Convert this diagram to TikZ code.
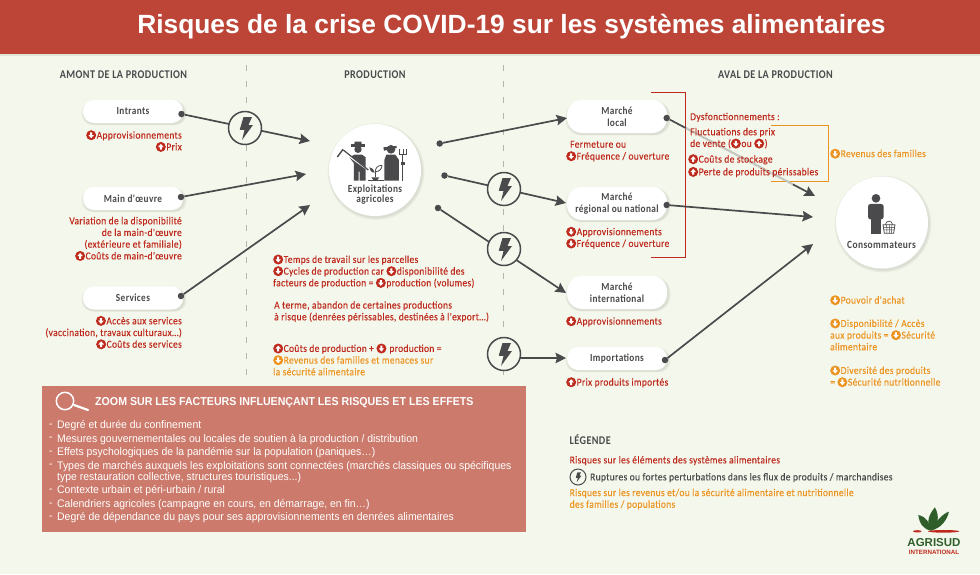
\documentclass[tikz,border=0pt]{standalone}
\usepackage{fontspec}
\usetikzlibrary{arrows.meta,shadows,calc}
\setmainfont{Liberation Sans}
\newfontfamily\dosf[LetterSpace=3,FakeStretch=0.895,FakeBold=0.25]{Carlito}
\newfontfamily\dosb[LetterSpace=3.5,FakeStretch=0.86]{Carlito Bold}
\newfontfamily\zoomf[FakeStretch=0.95]{Liberation Sans}
\newfontfamily\zoomb[FakeStretch=0.925]{Liberation Sans Bold}
\definecolor{bgc}{HTML}{F4F8EC}
\definecolor{barc}{HTML}{BC4537}
\definecolor{cr}{HTML}{BF2A1E}
\definecolor{co}{HTML}{EC9422}
\definecolor{dk}{HTML}{4A4A4C}
\definecolor{boxc}{HTML}{CC7A6B}
\definecolor{dashc}{HTML}{B4B5AC}
\definecolor{leaf}{HTML}{2F5E2B}
\newcommand\icoarrow[1]{\fill[white] (-1,#1*2.8) -- (1,#1*2.8) -- (1,#1*0.2) -- (2.8,#1*0.2) -- (0,-#1*3) -- (-2.8,#1*0.2) -- (-1,#1*0.2) -- cycle;}
\newcommand\rdn{\tikz[baseline=-3.4pt,x=1pt,y=1pt]{\fill[cr] (0,0) circle (5);\icoarrow{1}}\hspace{.5pt}}
\newcommand\rup{\tikz[baseline=-3.4pt,x=1pt,y=1pt]{\fill[cr] (0,0) circle (5);\icoarrow{-1}}\hspace{.5pt}}
\newcommand\odn{\tikz[baseline=-3.4pt,x=1pt,y=1pt]{\fill[co] (0,0) circle (5);\icoarrow{1}}\hspace{.5pt}}
\tikzset{
  softsh/.style={drop shadow={shadow xshift=1pt,shadow yshift=-1.5pt,opacity=.05,fill=black,shadow scale=1.02},
                 drop shadow={shadow xshift=1pt,shadow yshift=-1.5pt,opacity=.05,fill=black,shadow scale=1.05}},
  pill/.style={rounded corners=11pt,fill=white,softsh,inner sep=0pt,align=center,text=dk,font=\dosb\fontsize{10.8}{11.7}\selectfont},
  disc/.style={circle,fill=white,softsh,minimum size=92pt,inner sep=0pt},
  dot/.style={circle,fill=dk,inner sep=0pt,minimum size=6.5pt},
  flow/.style={draw=dk,line width=1.7pt,-{Stealth[length=10.5pt,width=10.5pt,inset=1.5pt]}},
  boltc/.style={circle,draw=dk,line width=1.5pt,fill=bgc,minimum size=33pt,inner sep=0pt},
  bolt/.pic={\fill[dk] (-1.5,-11) -- (7,-11) -- (3.5,-3) -- (8,-3) -- (-3,12) -- (-0.5,2) -- (-5.3,1.7) -- cycle;},
  blk/.style={inner sep=0pt,yshift=5pt,font=\dosf\fontsize{10.6}{11.7}\selectfont,execute at begin node=\strut},
  rr/.style={blk,anchor=north east,align=right,text=cr},
  rl/.style={blk,anchor=north west,align=left,text=cr},
  ol/.style={blk,anchor=north west,align=left,text=co},
  hdr/.style={inner sep=0pt,text=dk,font=\dosb\fontsize{11.8}{12}\selectfont},
  zl/.style={inner sep=0pt,anchor=west,text=white,font=\zoomf\fontsize{11}{12}\selectfont},
  zt/.style={inner sep=0pt,anchor=west,text=white,font=\zoomb\fontsize{11.5}{13}\selectfont},
}
\begin{document}
\begin{tikzpicture}[x=1pt,y=-1pt]
\useasboundingbox (0,0) rectangle (980,574);
\fill[bgc] (0,0) rectangle (980,574);
\fill[black,opacity=.08] (0,54) rectangle (980,56);
\fill[barc] (0,0) rectangle (980,54);
\node[inner sep=0pt,text=white,font=\bfseries\fontsize{26.35}{28}\selectfont] (title) at (511.5,27) {Risques de la crise COVID-19 sur les systèmes alimentaires};
\node[hdr] (h1) at (123.5,75) {AMONT DE LA PRODUCTION};
\node[hdr] (h2) at (375,75) {PRODUCTION};
\node[hdr] (h3) at (775.5,75) {AVAL DE LA PRODUCTION};
\draw[dashc,line width=1pt,dash pattern=on 6pt off 10pt] (246,65) -- (246,382);
\draw[dashc,line width=1pt,dash pattern=on 6pt off 10pt] (503,65) -- (503,382);
% brackets
\draw[cr,line width=1pt] (651,92.5) -- (685,92.5) -- (685,257) -- (651,257);
\draw[co,line width=1pt] (771,125) -- (828,125) -- (828,181) -- (771,181);
% pills and discs
\node[pill,minimum width=100pt,minimum height=23pt] (intr) at (133,111.5) {Intrants};
\node[pill,minimum width=100pt,minimum height=23pt] (main) at (133,198.5) {Main d'œuvre};
\node[pill,minimum width=100pt,minimum height=23pt] (serv) at (133,298) {Services};
\node[pill,minimum width=100pt,minimum height=33pt,rounded corners=15pt] (ml) at (617,116.5) {Marché\\local};
\node[pill,minimum width=100pt,minimum height=33pt,rounded corners=15pt] (mr) at (617,203.5) {Marché\\régional ou national};
\node[pill,minimum width=100pt,minimum height=33pt,rounded corners=15pt] (mi) at (617,292.5) {Marché\\international};
\node[pill,minimum width=100pt,minimum height=23pt] (imp) at (617,358.5) {Importations};
\node[disc] (expl) at (375,170) {};
\node[disc] (cons) at (882,222.5) {};
% connector ends
\node[dot] (d1) at (181.5,114) {};
\node[dot] (d2) at (181,197) {};
\node[dot] (d3) at (181,296) {};
\node[dot] (d4) at (439.7,143.5) {};
\node[dot] (d5) at (444.5,175.5) {};
\node[dot] (d6) at (438,208) {};
\node[dot] (d7) at (666.7,118) {};
\node[dot] (d8) at (666.7,205) {};
\node[dot] (d9) at (665,360) {};
\coordinate (t1) at (310,141);
\coordinate (t2) at (306,174);
\coordinate (t3) at (310,205);
\coordinate (t4) at (567,118);
\coordinate (t5) at (566,203);
\coordinate (t6) at (566,293);
\coordinate (t7) at (815,196);
\coordinate (t8) at (813,217);
\coordinate (t9) at (813,244);
\coordinate (t10) at (566,358);
\coordinate (b4) at (510,358);
\draw[flow] (d1) -- (t1);
\draw[flow] (d2) -- (t2);
\draw[flow] (d3) -- (t3);
\draw[flow] (d4) -- (t4);
\draw[flow] (d5) -- (t5);
\draw[flow] (d6) -- (t6);
\draw[flow] (d7) -- (t7);
\draw[bgc,opacity=.72,line width=2pt] ($(d7)!.13!(t7)$) -- ($(d7)!.85!(t7)$);
\draw[flow] (d8) -- (t8);
\draw[flow] (d9) -- (t9);
\draw[flow] (b4) -- (t10);
% bolts
\node[boltc] (l1) at (245,128) {}; \pic at (l1) {bolt};
\node[boltc] (l2) at (504,189) {}; \pic at (l2) {bolt};
\node[boltc] (l3) at (504,249) {}; \pic at (l3) {bolt};
\node[boltc] (l4) at (504,354) {}; \pic at (l4) {bolt};
% farmers icon
\begin{scope}[shift={(260,60)},scale=.3333]
 \fill[dk] (272,253) rectangle (316,260);
 \fill[dk] (282,260) -- (284,245) -- (304,245) -- (306,260) -- cycle;
 \fill[dk] (294,268) circle (11);
 \fill[dk] (284,284) -- (306,284) -- (317,292) -- (317,362) -- (299,362) -- (299,335) -- (296,335) -- (296,362) -- (282,362) -- (282,310) -- (268,292) -- cycle;
 \draw[white,line width=1.6pt] (262,285) -- (318,325);
 \draw[dk,line width=1.2pt] (250,270) -- (325,330);
 \draw[dk,line width=1.4pt] (232,291) -- (249,268);
 \fill[dk] (393,268) circle (13);
 \fill[dk] (370,262) -- (410,258) -- (410,264) -- (372,272) -- cycle;
 \fill[dk] (379,284) -- (406,284) -- (417,300) -- (417,362) -- (373,362) -- (373,300) -- cycle;
 \draw[dk,line width=1pt] (429,282) -- (429,362);
 \draw[dk,line width=.8pt] (419,268) -- (419,282) -- (439,282) -- (439,268) (429,268) -- (429,282);
 \fill[dk] (424,305) rectangle (434,316);
 \fill[dk] (325,359) rectangle (371,362);
 \fill[dk] (334,352) -- (358,352) -- (352,360) -- (340,360) -- cycle;
 \draw[dk,line width=.8pt] (346,352) -- (346,335);
 \draw[dk,line width=.8pt] (346,335) .. controls (360,335) and (366,325) .. (366,316) .. controls (352,316) and (346,325) .. (346,335);
 \fill[dk] (344,338) .. controls (340,326) and (334,322) .. (328,322) .. controls (328,330) and (334,338) .. (344,338);
\end{scope}
\node[inner sep=0pt,align=center,text=dk,font=\dosb\fontsize{10.8}{9.5}\selectfont] (et) at (375,194.5) {Exploitations\\agricoles};
% consumer icon
\begin{scope}[shift={(780,130)},scale=.3333]
 \fill[dk] (288,205) circle (13);
 \fill[dk,rounded corners=2.5pt] (264,268) rectangle (311,222);
 \fill[dk] (272,260) rectangle (303,311);
 \fill[white] (302,276) rectangle (352,314);
 \draw[dk,line width=.8pt,fill=white] (309,284) -- (345,284) -- (341,310) -- (313,310) -- cycle;
 \draw[dk,line width=.5pt] (311,292) -- (343,292) (312,300) -- (342,300) (320,284) -- (321,310) (328,284) -- (328,310) (336,284) -- (334,310);
 \draw[dk,line width=.7pt] (316,284) .. controls (318,270) and (336,270) .. (338,284);
\end{scope}
\node[inner sep=0pt,text=dk,font=\dosb\fontsize{11}{11}\selectfont] (ct) at (881.5,244.7) {Consommateurs};
% left texts
\node[rr] (a1) at (182,135) {\rdn Approvisionnements\\\rup Prix};
\node[rr] (a2) at (182,221.7) {Variation de la disponibilité\\de la main-d'œuvre\\(extérieure et familiale)\\\rup Coûts de main-d'œuvre};
\node[rr] (a3) at (182,320.7) {\rdn Accès aux services\\(vaccination, travaux culturaux…)\\\rup Coûts des services};
% production texts
\node[rl] (p1) at (273,259.3) {\rdn Temps de travail sur les parcelles\\\rdn Cycles de production car \rdn disponibilité des\\facteurs de production = \rdn production (volumes)};
\node[rl] (p2) at (274,306) {A terme, abandon de certaines productions\\à risque (denrées périssables, destinées à l'export…)};
\node[rl] (p3) at (273,348.3) {\rup Coûts de production + \rdn\ production =\\\textcolor{co}{\odn Revenus des familles et menaces sur}\\\textcolor{co}{la sécurité alimentaire}};
% market texts
\node[rl] (m1) at (570,144.3) {Fermeture ou};
\node[rl] (m2) at (566,156) {\rdn Fréquence / ouverture};
\node[rl] (m3) at (566,231.6) {\rdn Approvisionnements\\\rdn Fréquence / ouverture};
\node[rl] (m4) at (566,321) {\rdn Approvisionnements};
\node[rl] (m5) at (566,382) {\rup Prix produits importés};
% dysfonctionnements
\node[rl] (y1) at (690,116.7) {Dysfonctionnements :};
\node[rl] (y2) at (690,132.7) {Fluctuations des prix\\de vente (\rdn ou \rup)};
\node[rl] (y3) at (688,159) {\rup Coûts de stockage};
\node[rl] (y4) at (688,171.7) {\rup Perte de produits périssables};
% consumers texts
\node[ol] (c1) at (830,153.5) {\odn Revenus des familles};
\node[ol] (c2) at (830,300) {\odn Pouvoir d'achat};
\node[ol] (c3) at (830,323.3) {\odn Disponibilité / Accès\\aux produits = \odn Sécurité\\alimentaire};
\node[ol] (c4) at (830,370.3) {\odn Diversité des produits\\= \odn Sécurité nutritionnelle};
% zoom box
\fill[boxc] (41.7,386) rectangle (526,532);
\draw[white,line width=1.5pt] (65,401) circle (8.7);
\draw[white,line width=2.2pt,line cap=round] (74,405) -- (88,410);
\node[zt] (zt) at (95,402.5) {ZOOM SUR LES FACTEURS INFLUENÇANT LES RISQUES ET LES EFFETS};
\foreach \yy/\tx in {426/{Degré et durée du confinement},
 439.3/{Mesures gouvernementales ou locales de soutien à la production / distribution},
 452.7/{Effets psychologiques de la pandémie sur la population (paniques…)},
 466.3/{Types de marchés auxquels les exploitations sont connectées (marchés classiques ou spécifiques},
 491/{Contexte urbain et péri-urbain / rural},
 504.7/{Calendriers agricoles (campagne en cours, en démarrage, en fin…)},
 518/{Degré de dépendance du pays pour ses approvisionnements en denrées alimentaires}}{
  \node[zl] at (49,\yy) {-};
  \node[zl] at (57,\yy) {\tx};
}
\node[zl] (zl5) at (57,478) {type restauration collective, structures touristiques...)};
% legend
\node[hdr,anchor=west] (lg) at (569.5,440) {LÉGENDE};
\node[rl] (lg1) at (569.5,460) {Risques sur les éléments des systèmes alimentaires};
\node[circle,draw=dk,line width=1pt,minimum size=16pt,inner sep=0pt] (lb) at (578,477) {};
\pic[scale=.42] at (lb) {bolt};
\node[blk,anchor=north west,text=dk] (lg2) at (590,477) {Ruptures ou fortes perturbations dans les flux de produits / marchandises};
\node[ol] (lg3) at (569.5,493.5) {Risques sur les revenus et/ou la sécurité alimentaire et nutritionnelle\\des familles / populations};
% logo
\begin{scope}[shift={(550,420)},scale=.3333]
 \fill[leaf] (1155,262) .. controls (1170,290) and (1165,315) .. (1143,332) .. controls (1128,310) and (1135,285) .. (1155,262);
 \fill[leaf] (1105,285) .. controls (1130,290) and (1140,310) .. (1143,332) .. controls (1120,328) and (1108,310) .. (1105,285);
 \fill[leaf] (1197,275) .. controls (1180,280) and (1155,305) .. (1143,332) .. controls (1170,325) and (1190,305) .. (1197,275);
 \fill[cr] (1102,334) ellipse (13 and 3.5);
 \fill[cr] (1181,334) ellipse (47 and 4);
\end{scope}
\node[inner sep=0pt,text=leaf,font=\bfseries\fontsize{11.5}{12}\selectfont] (ag) at (934,543) {AGRISUD};
\node[inner sep=0pt,text=cr,font=\bfseries\fontsize{6.2}{7}\selectfont] (ai) at (934,552.6) {INTERNATIONAL};
\end{tikzpicture}
\end{document}
